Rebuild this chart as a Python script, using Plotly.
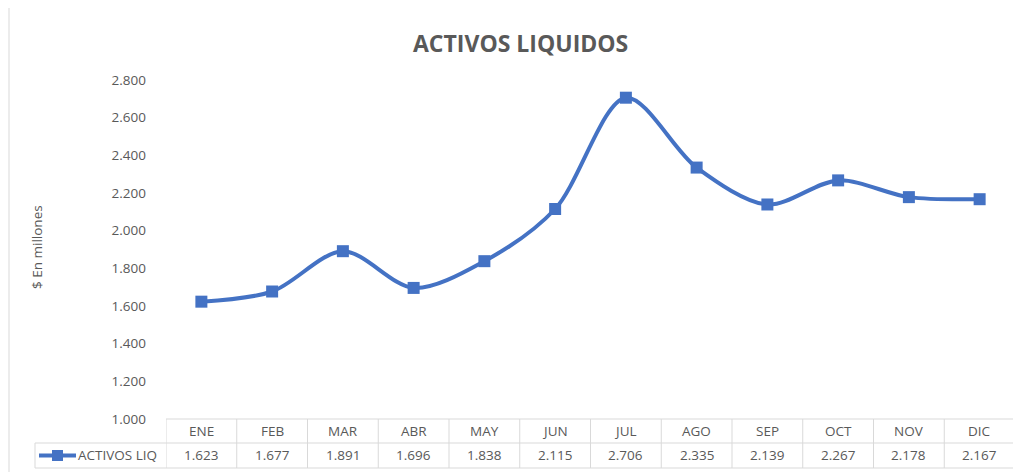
import plotly.graph_objects as go

meses = ["ENE", "FEB", "MAR", "ABR", "MAY", "JUN", "JUL", "AGO", "SEP", "OCT", "NOV", "DIC"]
activos_liq = [1623, 1677, 1891, 1696, 1838, 2115, 2706, 2335, 2139, 2267, 2178, 2167]
serie_nombre = "ACTIVOS LIQ"
titulo = "ACTIVOS LIQUIDOS"
eje_y_titulo = "$ En millones"

AZUL = "#4472C4"
GRIS = "#595959"
BORDE = "#D9D9D9"
FONT = "Open Sans"

# page offset (browser body margin)
OFF = 8
W, H = 1021 - OFF, 472 - OFF
# plot area in page pixels
PL, PR, PT, PB = 166, 1015, 80, 419
L = PL - OFF
R = W - (PR - OFF)
T = PT - OFF
B = H - (PB - OFF)
pw = PR - PL
ph = PB - PT

def px_x(p):
    return (p - PL) / pw

def px_y(p):
    return (PB - p) / ph

fig = go.Figure()
fig.add_trace(go.Scatter(
    x=meses, y=activos_liq, name=serie_nombre,
    mode="lines+markers",
    line=dict(color=AZUL, width=4, shape="spline", smoothing=0.9),
    marker=dict(symbol="square", size=12, color=AZUL),
    showlegend=False,
))

y_row1 = px_y(443)
y_row2 = px_y(468)
x_leg = px_x(35)

shapes = []
shapes.append(dict(type="line", xref="paper", yref="paper", x0=0, x1=1, y0=0, y1=0,
                   line=dict(color=BORDE, width=1)))
for yy in (y_row1, y_row2):
    shapes.append(dict(type="line", xref="paper", yref="paper", x0=x_leg, x1=1, y0=yy, y1=yy,
                       line=dict(color=BORDE, width=1)))
for i in range(len(meses) + 1):
    shapes.append(dict(type="line", xref="x", yref="paper", x0=i - 0.5, x1=i - 0.5, y0=0, y1=y_row2,
                       line=dict(color=BORDE, width=1)))
shapes.append(dict(type="line", xref="paper", yref="paper", x0=x_leg, x1=x_leg, y0=y_row1, y1=y_row2,
                   line=dict(color=BORDE, width=1)))
shapes.append(dict(type="line", xref="paper", yref="paper", x0=px_x(9), x1=px_x(9), y0=px_y(OFF), y1=px_y(472),
                   line=dict(color=BORDE, width=1)))
ymid = (y_row1 + y_row2) / 2
shapes.append(dict(type="line", xref="paper", yref="paper", x0=px_x(39), x1=px_x(76), y0=ymid, y1=ymid,
                   line=dict(color=AZUL, width=4)))
shapes.append(dict(type="rect", xref="paper", yref="paper", x0=px_x(52), x1=px_x(63),
                   y0=ymid - 5.5 / ph, y1=ymid + 5.5 / ph, line=dict(width=0), fillcolor=AZUL))

FS = 13.5
annotations = []
for m, v in zip(meses, activos_liq):
    annotations.append(dict(x=m, xref="x", yref="paper", y=y_row1 / 2, text=m, showarrow=False,
                            font=dict(family=FONT, size=FS, color=GRIS), xanchor="center", yanchor="middle"))
    annotations.append(dict(x=m, xref="x", yref="paper", y=ymid, text=f"{v:,}".replace(",", "."),
                            showarrow=False, font=dict(family=FONT, size=FS, color=GRIS),
                            xanchor="center", yanchor="middle"))
annotations.append(dict(x=px_x(76), xref="paper", yref="paper", y=ymid, text=serie_nombre, showarrow=False,
                        font=dict(family=FONT, size=FS, color=GRIS), xanchor="left", yanchor="middle"))
annotations.append(dict(x=px_x(37), xref="paper", yref="paper", y=px_y(247), text=eje_y_titulo, showarrow=False,
                        textangle=-90, font=dict(family=FONT, size=FS, color=GRIS), xanchor="center", yanchor="middle"))
annotations.append(dict(x=px_x(520), xref="paper", yref="paper", y=px_y(43), text=f"<b>{titulo}</b>",
                        showarrow=False, font=dict(family=FONT, size=23, color=GRIS),
                        xanchor="center", yanchor="middle"))

fig.update_layout(
    width=W, height=H,
    margin=dict(l=L, r=R, t=T, b=B),
    paper_bgcolor="white", plot_bgcolor="white",
    separators=",.",
    xaxis=dict(range=[-0.5, len(meses) - 0.5], showticklabels=False, showgrid=False, zeroline=False,
               showline=False, ticks=""),
    yaxis=dict(range=[1000, 2800], dtick=200, tickformat=",.0f", showgrid=False, zeroline=False,
               showline=False, ticks="", ticklabelstandoff=19,
               tickfont=dict(family=FONT, size=FS, color=GRIS)),
    shapes=shapes,
    annotations=annotations,
)

fig.write_html("out.html")
